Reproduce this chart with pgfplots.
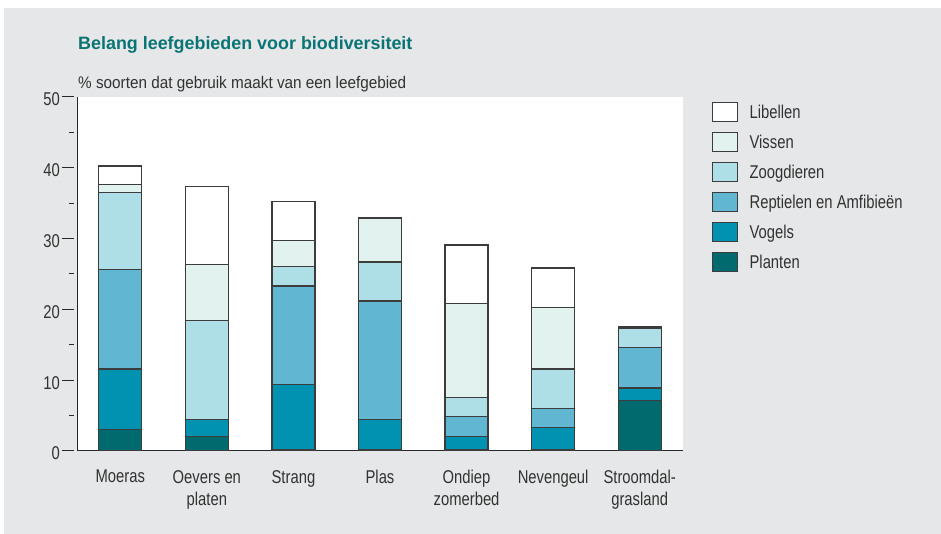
\documentclass[border=0pt]{standalone}
\usepackage{pgfplots}
\pgfplotsset{compat=1.18}
\usepackage{fontspec}
\setmainfont{Liberation Sans}
\newfontfamily\narrowfont[FakeStretch=0.80]{Liberation Sans}
\newfontfamily\labfont[FakeStretch=0.91]{Liberation Sans}
\definecolor{bg}{RGB}{230,231,232}
\definecolor{textcol}{RGB}{50,50,50}
\definecolor{axcol}{RGB}{40,40,40}
\definecolor{barline}{RGB}{60,60,60}
\definecolor{titlecol}{RGB}{10,116,116}
\definecolor{cPlanten}{RGB}{0,106,110}
\definecolor{cVogels}{RGB}{0,146,176}
\definecolor{cRept}{RGB}{97,183,210}
\definecolor{cZoog}{RGB}{174,223,230}
\definecolor{cVissen}{RGB}{226,242,239}
\definecolor{cLib}{RGB}{255,255,255}
\newcommand{\lblfont}{\narrowfont\fontsize{18.5}{22}\selectfont}
\begin{document}
\begin{tikzpicture}[x=1pt,y=1pt]
\fill[white] (0,0) rectangle (941,534);
\fill[bg] (4,0) rectangle (941,526);
\begin{axis}[
  at={(77pt,83pt)}, anchor=south west,
  scale only axis, width=606pt, height=354pt,
  xmin=-0.5, xmax=6.5, ymin=0, ymax=50,
  axis background/.style={fill=white},
  axis lines=left,
  axis line style={-, draw=axcol, line width=1pt},
  ybar stacked, bar width=43pt,
  legend image code/.code={\draw[#1, line width=1.1pt] (0pt,-9.5pt) rectangle (25pt,9.5pt); \path (0pt,-14.3pt) (36pt,14.3pt);},
  every axis plot/.append style={draw=barline, line width=1.3pt},
  xtick={0,...,6},
  xticklabels={Moeras,{Oevers en\\platen},Strang,Plas,{Ondiep\\zomerbed},Nevengeul,{Stroomdal-\\grasland}},
  xticklabel style={align=center, anchor=north, inner sep=0pt, yshift=-7pt, font=\lblfont, text=textcol},
  x tick style={draw=none},
  ytick={0,10,...,50},
  minor ytick={5,15,...,45},
  tick align=outside,
  major tick length=12pt, minor tick length=5pt,
  y tick style={xshift=-3pt, draw=axcol, line width=1pt},
  /pgf/number format/assume math mode=true,
  yticklabel style={anchor=east, inner sep=0pt, xshift=-5pt, yshift=-2.5pt, font=\lblfont, text=textcol},
  title={Belang leefgebieden voor biodiversiteit},
  every axis title/.style={at={(rel axis cs:0,1)}, anchor=base west, yshift=47pt, xshift=1pt, inner sep=0pt, font=\bfseries\fontsize{17.9}{20}\selectfont, text=titlecol},
  ylabel={\% soorten dat gebruik maakt van een leefgebied},
  every axis y label/.style={at={(rel axis cs:0,1)}, anchor=base west, yshift=8pt, xshift=1pt, inner sep=0pt, font=\labfont\fontsize{16.8}{20}\selectfont, text=textcol},
  reverse legend,
  legend cell align=left,
  legend style={at={(rel axis cs:1.048,1)}, anchor=north west, draw=none, fill=none, inner sep=0pt, row sep=0pt, column sep=0pt, font=\lblfont, text=textcol, nodes={inner sep=0pt, text height=13.5pt, text depth=0pt}},
]
\addplot[fill=cPlanten] coordinates {(0,3.0) (1,2.0) (2,0.2) (3,0.2) (4,0.2) (5,0.2) (6,7.1)};
\addlegendentry{Planten}
\addplot[fill=cVogels] coordinates {(0,8.6) (1,2.4) (2,9.2) (3,4.2) (4,1.8) (5,3.15) (6,1.8)};
\addlegendentry{Vogels}
\addplot[fill=cRept] coordinates {(0,14.0) (1,0) (2,13.9) (3,16.8) (4,2.9) (5,2.65) (6,5.7)};
\addlegendentry{Reptielen en Amfibieën}
\addplot[fill=cZoog] coordinates {(0,10.9) (1,14.0) (2,2.8) (3,5.5) (4,2.7) (5,5.6) (6,2.7)};
\addlegendentry{Zoogdieren}
\addplot[fill=cVissen] coordinates {(0,1.1) (1,7.9) (2,3.6) (3,6.1) (4,13.2) (5,8.7) (6,0.1)};
\addlegendentry{Vissen}
\addplot[fill=cLib] coordinates {(0,2.65) (1,11.1) (2,5.5) (3,0.15) (4,8.3) (5,5.55) (6,0.1)};
\addlegendentry{Libellen}
\end{axis}
\pgfresetboundingbox
\useasboundingbox (0,0) rectangle (941,534);
\end{tikzpicture}
\end{document}
